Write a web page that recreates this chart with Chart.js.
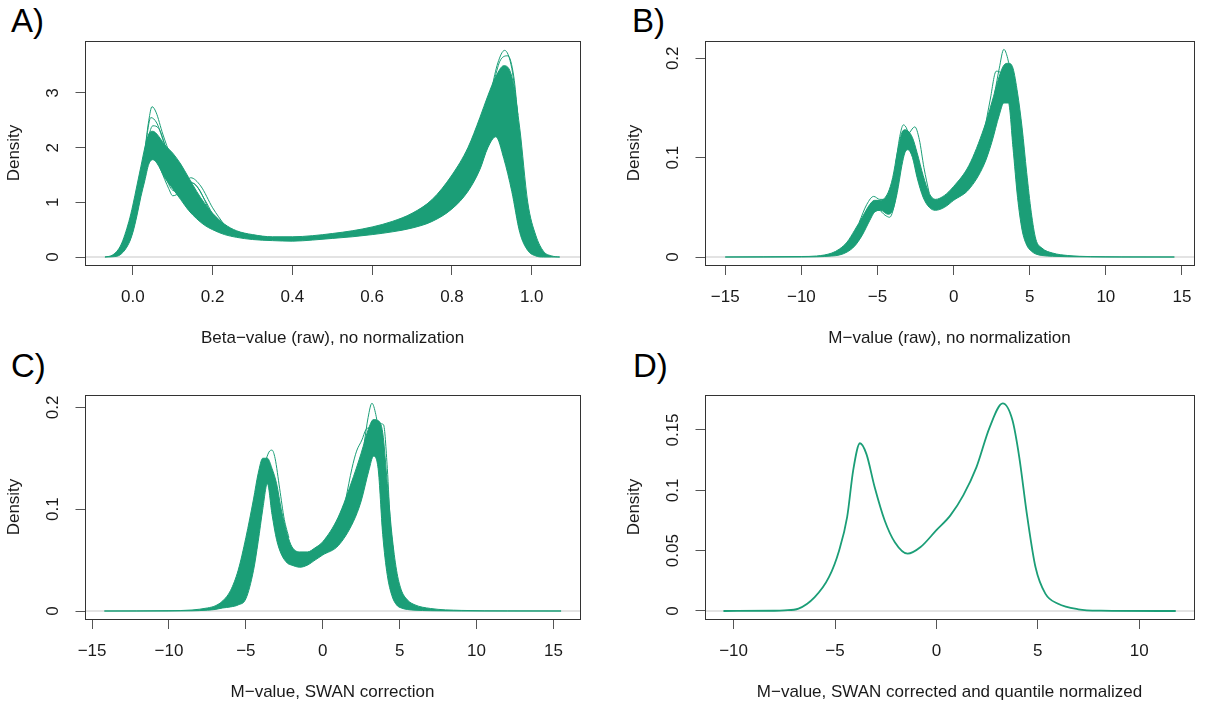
<!DOCTYPE html>
<html lang="en">
<head>
    <meta charset="UTF-8">
    <title>Density plots of methylation values</title>
    <script src="https://cdn.jsdelivr.net/npm/chart.js"></script>
    <style>
        body {
            margin: 0;
            background: #ffffff;
            font-family: "Liberation Sans", Arial, sans-serif;
        }
        #page {
            position: relative;
            width: 1206px;
            height: 708px;
            overflow: hidden;
        }
        canvas {
            position: absolute;
        }
        .panel-label {
            position: absolute;
            font-size: 33px;
            line-height: 33px;
            color: #000;
        }
    </style>
</head>
<body>
<div id="page">
    <div class="panel-label" style="left:11px; top:4px;">A)</div>
    <div class="panel-label" style="left:632px; top:4px;">B)</div>
    <div class="panel-label" style="left:11px; top:349px;">C)</div>
    <div class="panel-label" style="left:633px; top:349px;">D)</div>
    <canvas id="chartA" width="592" height="354" style="left:0; top:0;"></canvas>
    <canvas id="chartB" width="586" height="354" style="left:620px; top:0;"></canvas>
    <canvas id="chartC" width="592" height="354" style="left:0; top:354px;"></canvas>
    <canvas id="chartD" width="586" height="354" style="left:620px; top:354px;"></canvas>
</div>

<script>
    // ---- A) Beta-value, raw: band of curves (upper / lower edge) + stray curves ----
    const aX = [-0.07, -0.05, -0.03, -0.01, 0, 0.01, 0.02, 0.03, 0.04, 0.05, 0.06, 0.08, 0.1, 0.12, 0.14, 0.16, 0.18, 0.2, 0.23, 0.26, 0.3, 0.35, 0.4, 0.45, 0.5, 0.55, 0.6, 0.65, 0.7, 0.75, 0.8, 0.84, 0.87, 0.89, 0.91, 0.93, 0.95, 0.97, 0.99, 1.01, 1.03, 1.05, 1.07];
    const aUpper = [0, 0.04, 0.22, 0.65, 0.95, 1.3, 1.65, 2.0, 2.25, 2.3, 2.25, 2.05, 1.9, 1.7, 1.45, 1.2, 0.98, 0.8, 0.6, 0.48, 0.41, 0.37, 0.37, 0.39, 0.43, 0.48, 0.55, 0.65, 0.8, 1.05, 1.5, 2.0, 2.55, 2.95, 3.3, 3.5, 3.3, 2.35, 1.0, 0.4, 0.1, 0.02, 0];
    const aLower = [0, 0.005, 0.05, 0.25, 0.45, 0.75, 1.1, 1.4, 1.7, 1.78, 1.72, 1.45, 1.25, 1.05, 0.85, 0.7, 0.58, 0.5, 0.41, 0.36, 0.32, 0.3, 0.29, 0.31, 0.34, 0.37, 0.41, 0.46, 0.53, 0.65, 0.88, 1.2, 1.6, 2.0, 2.2, 1.8, 1.2, 0.45, 0.12, 0.02, 0, 0, 0];
    const aStray = [
        [[0.03, 1.95], [0.04, 2.5], [0.048, 2.75], [0.058, 2.65], [0.075, 2.25], [0.095, 1.85], [0.11, 1.65]],
        [[0.03, 1.95], [0.045, 2.55], [0.06, 2.45], [0.08, 2.05], [0.09, 1.9]],
        [[0.035, 2.1], [0.05, 2.4], [0.065, 2.35], [0.085, 1.95]],
        [[0.05, 2.0], [0.07, 1.6], [0.09, 1.25], [0.1, 1.12], [0.12, 1.2], [0.145, 1.45], [0.17, 1.3], [0.2, 0.9], [0.23, 0.58]],
        [[0.06, 1.9], [0.08, 1.5], [0.1, 1.22], [0.115, 1.2], [0.14, 1.38], [0.165, 1.25], [0.19, 0.88]],
        [[0.06, 1.85], [0.08, 1.5], [0.1, 1.3], [0.125, 1.33], [0.15, 1.35], [0.18, 1.05], [0.2, 0.78]],
        [[0.9, 3.1], [0.915, 3.55], [0.932, 3.78], [0.95, 3.45], [0.965, 2.6]],
        [[0.905, 3.2], [0.92, 3.58], [0.94, 3.68], [0.955, 3.3], [0.965, 2.6]]
    ];
    const aXTicks = [0, 0.2, 0.4, 0.6, 0.8, 1.0];
    const aXLabels = ['0.0', '0.2', '0.4', '0.6', '0.8', '1.0'];
    const aYTicks = [0, 1, 2, 3];
    const aYLabels = ['0', '1', '2', '3'];

    // ---- B) M-value, raw ----
    const bX = [-15, -10, -9, -8, -7.5, -7, -6.5, -6, -5.5, -5.2, -4.8, -4.3, -4, -3.7, -3.4, -3.2, -3.0, -2.7, -2.4, -2.0, -1.6, -1.2, -0.6, 0, 1, 2, 2.5, 3.0, 3.3, 3.6, 3.9, 4.2, 4.5, 4.8, 5.1, 5.4, 5.8, 6.5, 7.5, 9, 11, 14.5];
    const bUpper = [0, 0.0005, 0.001, 0.004, 0.008, 0.015, 0.027, 0.04, 0.053, 0.057, 0.057, 0.065, 0.08, 0.105, 0.125, 0.128, 0.127, 0.12, 0.105, 0.082, 0.064, 0.058, 0.062, 0.071, 0.092, 0.13, 0.155, 0.182, 0.193, 0.195, 0.19, 0.165, 0.13, 0.085, 0.045, 0.018, 0.009, 0.004, 0.0015, 0.0004, 0.0001, 0];
    const bLower = [0, 0, 0.0002, 0.001, 0.002, 0.005, 0.011, 0.022, 0.037, 0.045, 0.047, 0.043, 0.047, 0.065, 0.092, 0.105, 0.108, 0.1, 0.08, 0.06, 0.05, 0.047, 0.05, 0.057, 0.068, 0.093, 0.115, 0.143, 0.155, 0.155, 0.11, 0.06, 0.027, 0.012, 0.006, 0.003, 0.0015, 0.0007, 0.0003, 0.0001, 0, 0];
    const bStray = [
        [[2.7, 0.165], [3.0, 0.19], [3.3, 0.209], [3.55, 0.2], [3.8, 0.18], [4.0, 0.165]],
        [[2.0, 0.125], [2.4, 0.158], [2.8, 0.187], [3.05, 0.186], [3.3, 0.175], [3.5, 0.165]],
        [[-3.7, 0.095], [-3.3, 0.117], [-2.9, 0.125], [-2.55, 0.131], [-2.25, 0.118], [-1.95, 0.09], [-1.6, 0.064]],
        [[-3.8, 0.095], [-3.5, 0.124], [-3.3, 0.133], [-3.05, 0.128], [-2.8, 0.112]],
        [[-6.2, 0.035], [-5.7, 0.053], [-5.25, 0.061], [-4.85, 0.058], [-4.5, 0.058]],
        [[-5.4, 0.045], [-4.9, 0.047], [-4.5, 0.042], [-4.2, 0.04], [-3.9, 0.052], [-3.6, 0.08]]
    ];
    const bXTicks = [-15, -10, -5, 0, 5, 10, 15];
    const bXLabels = ['\u221215', '\u221210', '\u22125', '0', '5', '10', '15'];
    const bYTicks = [0, 0.1, 0.2];
    const bYLabels = ['0', '0.1', '0.2'];

    // ---- C) M-value, SWAN ----
    const cX = [-14.2, -10, -8.5, -7.5, -7, -6.5, -6, -5.5, -5, -4.5, -4.2, -3.9, -3.6, -3.3, -3.0, -2.7, -2.3, -2.0, -1.5, -1.0, -0.5, 0, 1, 2, 2.5, 3.0, 3.3, 3.6, 3.9, 4.2, 4.5, 4.8, 5.1, 5.5, 6, 7, 9, 12, 15.5];
    const cUpper = [0, 0.0003, 0.001, 0.003, 0.005, 0.01, 0.02, 0.04, 0.072, 0.11, 0.135, 0.15, 0.15, 0.14, 0.125, 0.1, 0.075, 0.063, 0.058, 0.058, 0.062, 0.068, 0.092, 0.132, 0.155, 0.18, 0.188, 0.187, 0.175, 0.125, 0.075, 0.04, 0.021, 0.011, 0.006, 0.0025, 0.0006, 0.0001, 0];
    const cLower = [0, 0, 0.0002, 0.0008, 0.0015, 0.003, 0.004, 0.006, 0.012, 0.04, 0.068, 0.1, 0.125, 0.095, 0.07, 0.056, 0.047, 0.045, 0.043, 0.045, 0.05, 0.055, 0.064, 0.088, 0.108, 0.138, 0.152, 0.14, 0.075, 0.035, 0.015, 0.006, 0.003, 0.0015, 0.0008, 0.0003, 0, 0, 0];
    const cStray = [
        [[-4.1, 0.12], [-3.75, 0.145], [-3.5, 0.156], [-3.3, 0.158], [-3.1, 0.15], [-2.8, 0.12], [-2.5, 0.09], [-2.2, 0.072]],
        [[2.7, 0.165], [2.95, 0.19], [3.2, 0.204], [3.45, 0.193], [3.7, 0.17]],
        [[1.5, 0.11], [1.9, 0.14], [2.2, 0.157], [2.55, 0.168], [2.8, 0.178], [3.0, 0.18]],
        [[3.4, 0.178], [3.7, 0.184], [3.95, 0.183], [4.2, 0.14], [4.4, 0.085], [4.6, 0.058]]
    ];
    const cXTicks = [-15, -10, -5, 0, 5, 10, 15];
    const cXLabels = ['\u221215', '\u221210', '\u22125', '0', '5', '10', '15'];
    const cYTicks = [0, 0.1, 0.2];
    const cYLabels = ['0', '0.1', '0.2'];

    // ---- D) M-value, SWAN + quantile normalized: all curves coincide ----
    const dX = [-10.5, -8, -7.5, -6.8, -6, -5.3, -4.8, -4.4, -4.1, -3.77, -3.45, -3.05, -2.55, -2.05, -1.42, -0.78, 0, 0.68, 1.33, 1.97, 2.62, 3.27, 3.75, 4.08, 4.48, 4.89, 5.37, 6.0, 7.0, 8.1, 11.8];
    const dY = [0, 0.0002, 0.0005, 0.002, 0.0115, 0.028, 0.05, 0.078, 0.117, 0.139, 0.13, 0.103, 0.075, 0.057, 0.0475, 0.053, 0.067, 0.079, 0.096, 0.119, 0.152, 0.172, 0.158, 0.128, 0.078, 0.036, 0.0144, 0.006, 0.0014, 0.0003, 0];
    const dXTicks = [-10, -5, 0, 5, 10];
    const dXLabels = ['\u221210', '\u22125', '0', '5', '10'];
    const dYTicks = [0, 0.05, 0.1, 0.15];
    const dYLabels = ['0', '0.05', '0.1', '0.15'];

    const GREEN = '#1b9e77';
    const FONT = '"Liberation Sans", Arial, sans-serif';
    const FONT_SIZE = 17;

    function textWidth(str) {
        const c = document.createElement('canvas').getContext('2d');
        c.font = FONT_SIZE + 'px ' + FONT;
        return c.measureText(str).width;
    }

    function pairs(xs, ys) {
        return xs.map((x, i) => ({ x: x, y: ys[i] }));
    }

    // R-style box round the plot region
    const boxPlugin = {
        id: 'box',
        afterDraw(chart) {
            const a = chart.chartArea;
            const ctx = chart.ctx;
            ctx.save();
            ctx.strokeStyle = '#333';
            ctx.lineWidth = 1;
            ctx.strokeRect(Math.round(a.left) + 0.5, Math.round(a.top) + 0.5,
                Math.round(a.right - a.left), Math.round(a.bottom - a.top));
            ctx.restore();
        }
    };

    function makePanel(p) {
        const datasets = [];
        const curve = {
            borderColor: GREEN, borderWidth: 1, pointRadius: 0,
            cubicInterpolationMode: 'monotone', fill: false
        };

        if (p.upper) {
            datasets.push(Object.assign({}, curve, {
                data: pairs(p.bandX, p.upper), fill: '+1', backgroundColor: GREEN, order: 5
            }));
            datasets.push(Object.assign({}, curve, { data: pairs(p.bandX, p.lower), order: 5 }));
        }
        (p.stray || []).forEach(s => {
            datasets.push(Object.assign({}, curve, {
                data: s.map(pt => ({ x: pt[0], y: pt[1] })), order: 1
            }));
        });
        if (p.single) {
            datasets.push(Object.assign({}, curve, { data: pairs(p.single[0], p.single[1]), borderWidth: 1.8, order: 1 }));
        }
        // grey zero line across the plot region, drawn underneath
        datasets.push({
            data: [{ x: p.xMin, y: 0 }, { x: p.xMax, y: 0 }],
            borderColor: '#dadada', borderWidth: 1.5, pointRadius: 0, fill: false, order: 10
        });

        const widest = Math.max(...p.yLabels.map(textWidth));
        const canvas = document.getElementById(p.id);

        new Chart(canvas, {
            type: 'line',
            data: { datasets: datasets },
            plugins: [boxPlugin],
            options: {
                responsive: false,
                animation: false,
                devicePixelRatio: 1,
                layout: { padding: { left: 0, top: 41, right: canvas.width - 85 - p.boxW, bottom: 0 } },
                plugins: { legend: { display: false }, tooltip: { enabled: false } },
                scales: {
                    x: {
                        type: 'linear', min: p.xMin, max: p.xMax, bounds: 'data',
                        afterBuildTicks: s => { s.ticks = p.xTicks.map(v => ({ value: v })); },
                        afterFit: s => { s.height = 89; },
                        border: { display: false },
                        grid: { drawOnChartArea: false, drawTicks: true, tickLength: 10, tickColor: '#555' },
                        ticks: {
                            autoSkip: false, minRotation: 0, maxRotation: 0, padding: 12,
                            color: '#1a1a1a', font: { family: FONT, size: FONT_SIZE },
                            callback: (v, i) => p.xLabels[i]
                        },
                        title: {
                            display: true, text: p.xTitle, color: '#1a1a1a',
                            font: { family: FONT, size: FONT_SIZE }, padding: { top: 0, bottom: 5 }
                        }
                    },
                    y: {
                        type: 'linear', min: p.yMin, max: p.yMax, bounds: 'data',
                        afterBuildTicks: s => { s.ticks = p.yTicks.map(v => ({ value: v })); },
                        afterFit: s => { s.width = 85; },
                        border: { display: false },
                        grid: { drawOnChartArea: false, drawTicks: true, tickLength: 9.5, tickColor: '#555' },
                        ticks: {
                            autoSkip: false, minRotation: 90, maxRotation: 90, crossAlign: 'center',
                            padding: 21.9 - widest / 2,
                            color: '#1a1a1a', font: { family: FONT, size: FONT_SIZE },
                            callback: (v, i) => p.yLabels[i]
                        },
                        title: {
                            display: true, text: 'Density', color: '#1a1a1a',
                            font: { family: FONT, size: FONT_SIZE }, padding: { top: 4, bottom: 0 }
                        }
                    }
                }
            }
        });
    }

    makePanel({
        id: 'chartA', boxW: 495, xMin: -0.12, xMax: 1.121, yMin: -0.146, yMax: 3.951,
        bandX: aX, upper: aUpper, lower: aLower, stray: aStray,
        xTicks: aXTicks, xLabels: aXLabels, yTicks: aYTicks, yLabels: aYLabels,
        xTitle: 'Beta\u2212value (raw), no normalization'
    });
    makePanel({
        id: 'chartB', boxW: 489, xMin: -16.33, xMax: 15.79, yMin: -0.00805, yMax: 0.2174,
        bandX: bX, upper: bUpper, lower: bLower, stray: bStray,
        xTicks: bXTicks, xLabels: bXLabels, yTicks: bYTicks, yLabels: bYLabels,
        xTitle: 'M\u2212value (raw), no normalization'
    });
    makePanel({
        id: 'chartC', boxW: 495, xMin: -15.46, xMax: 16.73, yMin: -0.00785, yMax: 0.2121,
        bandX: cX, upper: cUpper, lower: cLower, stray: cStray,
        xTicks: cXTicks, xLabels: cXLabels, yTicks: cYTicks, yLabels: cYLabels,
        xTitle: 'M\u2212value, SWAN correction'
    });
    makePanel({
        id: 'chartD', boxW: 489, xMin: -11.41, xMax: 12.7, yMin: -0.00663, yMax: 0.179,
        single: [dX, dY],
        xTicks: dXTicks, xLabels: dXLabels, yTicks: dYTicks, yLabels: dYLabels,
        xTitle: 'M\u2212value, SWAN corrected and quantile normalized'
    });
</script>
</body>
</html>
